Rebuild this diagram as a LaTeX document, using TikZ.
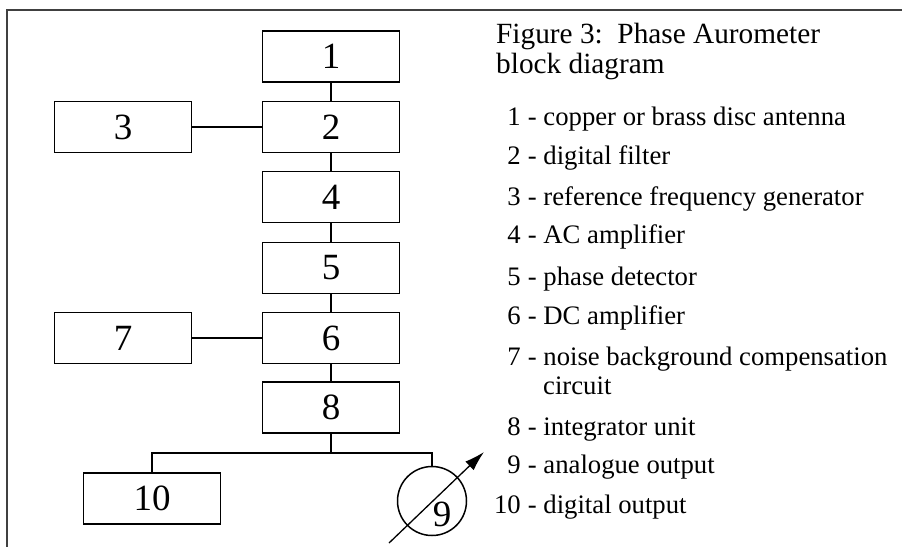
\documentclass[tikz,border=0pt]{standalone}
\usepackage{fontspec}
\setmainfont{Liberation Serif}
\usetikzlibrary{arrows.meta}
\begin{document}
\begin{tikzpicture}[x=1pt,y=-1pt,
  blk/.style={draw, line width=1.5pt, minimum width=137pt, minimum height=51pt, inner sep=0pt, font=\fontsize{37}{40}\selectfont},
  wire/.style={line width=1.3pt},
  captext/.style={anchor=base west, inner sep=0pt, font=\fontsize{29.3}{32}\selectfont},
  numtext/.style={anchor=base east, inner sep=0pt, font=\fontsize{26.7}{30}\selectfont},
  itemtext/.style={anchor=base west, inner sep=0pt, font=\fontsize{26.7}{30}\selectfont},
  frmline/.style={line width=2pt, black!75}
]
\useasboundingbox (0,0) rectangle (902,547);
% frame
\coordinate (fa) at (7,10);
\coordinate (fb) at (902,10);
\coordinate (fc) at (7,547);
\draw[frmline] (fb) -- (fa) -- (fc);

% blocks
\node[blk] (b1) at (331,56.5) {1};
\node[blk] (b2) at (331,127) {2};
\node[blk] (b3) at (123,127) {3};
\node[blk] (b4) at (331,197) {4};
\node[blk] (b5) at (331,268) {5};
\node[blk] (b6) at (331,338) {6};
\node[blk] (b7) at (123,338) {7};
\node[blk] (b8) at (331,407.5) {8};
\node[blk] (b10) at (152,498.5) {10};
\node[circle, draw, line width=1.5pt, minimum size=69pt, inner sep=0pt] (c9) at (432,501) {};
\node[inner sep=0pt, font=\fontsize{37}{40}\selectfont] (l9) at (442,514) {9};

% connectors
\draw[wire] (b1.south) -- (b2.north);
\draw[wire] (b2.south) -- (b4.north);
\draw[wire] (b4.south) -- (b5.north);
\draw[wire] (b5.south) -- (b6.north);
\draw[wire] (b6.south) -- (b8.north);
\draw[wire] (b3.east) -- (b2.west);
\draw[wire] (b7.east) -- (b6.west);
\coordinate (bus) at (331,453);
\draw[wire] (b8.south) -- (bus);
\draw[wire] (b10.north) |- (bus) -| (c9.north);

% meter arrow
\coordinate (a0) at (389,543);
\coordinate (a1) at (484,452);
\draw[line width=1.3pt, -{Latex[length=20pt,width=12pt]}] (a0) -- (a1);

% caption
\node[captext] (cap1) at (496,43) {Figure 3:\ \ Phase Aurometer};
\node[captext] (cap2) at (496,73) {block diagram};

% legend
\node[numtext] (n1) at (521,125) {1};
\node[itemtext] (t1) at (521,125) {\ - copper or brass disc antenna};
\node[numtext] (n2) at (521,164) {2};
\node[itemtext] (t2) at (521,164) {\ - digital filter};
\node[numtext] (n3) at (521,205) {3};
\node[itemtext] (t3) at (521,205) {\ - reference frequency generator};
\node[numtext] (n4) at (521,243) {4};
\node[itemtext] (t4) at (521,243) {\ - AC amplifier};
\node[numtext] (n5) at (521,285) {5};
\node[itemtext] (t5) at (521,285) {\ - phase detector};
\node[numtext] (n6) at (521,324) {6};
\node[itemtext] (t6) at (521,324) {\ - DC amplifier};
\node[numtext] (n7) at (521,365) {7};
\node[itemtext] (t7) at (521,365) {\ - noise background compensation};
\node[itemtext] (t7b) at (543,394) {circuit};
\node[numtext] (n8) at (521,435) {8};
\node[itemtext] (t8) at (521,435) {\ - integrator unit};
\node[numtext] (n9) at (521,473) {9};
\node[itemtext] (t9) at (521,473) {\ - analogue output};
\node[numtext] (n10) at (521,513) {10};
\node[itemtext] (t10) at (521,513) {\ - digital output};
\end{tikzpicture}
\end{document}
